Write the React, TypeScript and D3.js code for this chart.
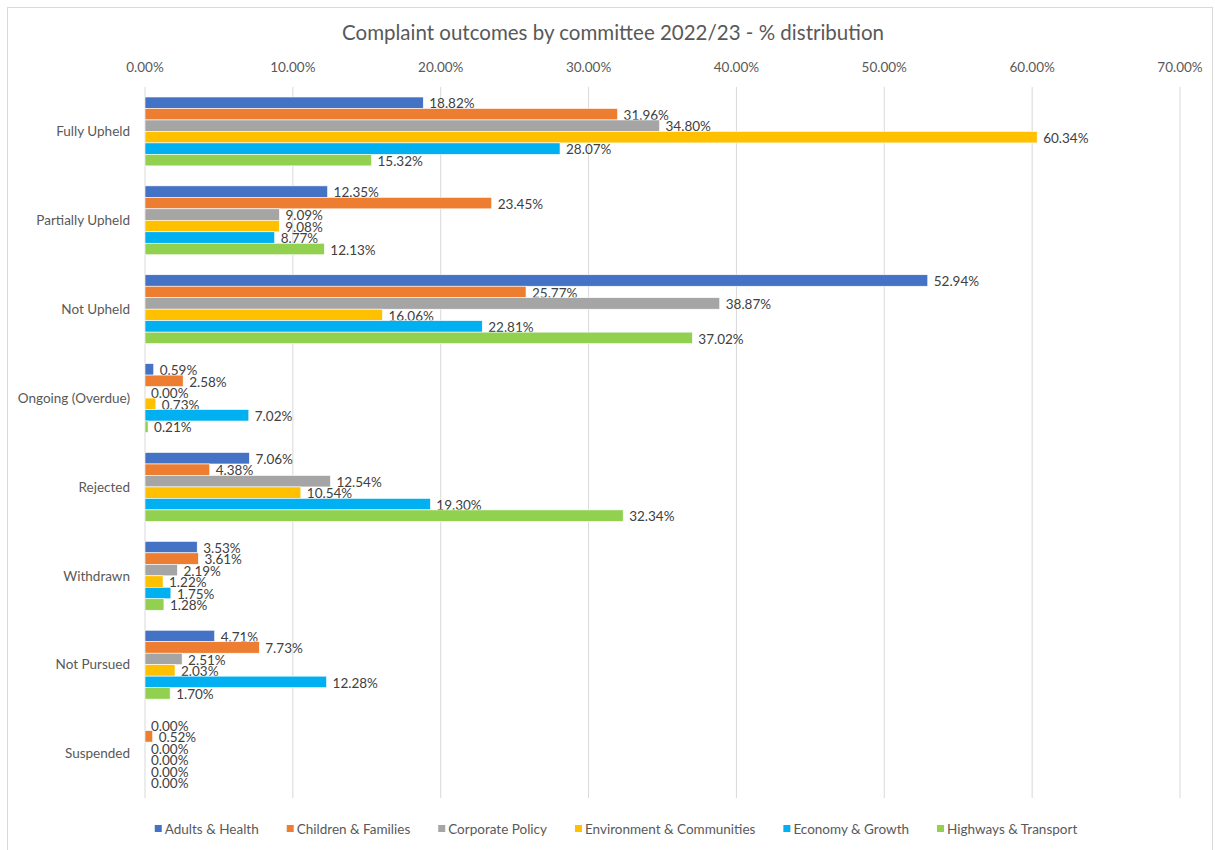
import { useEffect, useRef } from "react";
import * as d3 from "d3";

const CATEGORIES = [
  "Fully Upheld",
  "Partially Upheld",
  "Not Upheld",
  "Ongoing (Overdue)",
  "Rejected",
  "Withdrawn",
  "Not Pursued",
  "Suspended",
];

const SERIES = [
  "Adults & Health",
  "Children & Families",
  "Corporate Policy",
  "Environment & Communities",
  "Economy & Growth",
  "Highways & Transport",
];

const ADULTS = [18.82, 12.35, 52.94, 0.59, 7.06, 3.53, 4.71, 0.0];
const CHILDREN = [31.96, 23.45, 25.77, 2.58, 4.38, 3.61, 7.73, 0.52];
const CORPORATE = [34.8, 9.09, 38.87, 0.0, 12.54, 2.19, 2.51, 0.0];
const ENVIRONMENT = [60.34, 9.08, 16.06, 0.73, 10.54, 1.22, 2.03, 0.0];
const ECONOMY = [28.07, 8.77, 22.81, 7.02, 19.3, 1.75, 12.28, 0.0];
const HIGHWAYS = [15.32, 12.13, 37.02, 0.21, 32.34, 1.28, 1.7, 0.0];

const X_TICKS = [0, 10, 20, 30, 40, 50, 60, 70];

const COLORS = ["#4472C4", "#ED7D31", "#A5A5A5", "#FFC000", "#00B0F0", "#92D050"];

const FONT = "Lato, 'Open Sans', sans-serif";
const FS = "13.5px";

export default function App() {
  const svgRef = useRef<SVGSVGElement>(null);

  useEffect(() => {
    if (!svgRef.current) return;
    const svg = d3.select(svgRef.current);
    svg.selectAll("*").remove();

    const W = 1215;
    const H = 850;
    const margin = { top: 87, right: 35, bottom: 52, left: 145 };
    const width = W - margin.left - margin.right;
    const height = H - margin.top - margin.bottom;

    const values = [ADULTS, CHILDREN, CORPORATE, ENVIRONMENT, ECONOMY, HIGHWAYS];

    // chart frame
    svg.append("rect")
      .attr("x", 7.5).attr("y", 7.5)
      .attr("width", W - 10).attr("height", H - 5)
      .attr("fill", "#fff").attr("stroke", "#D9D9D9");

    svg.append("text")
      .attr("x", 613).attr("y", 40)
      .attr("text-anchor", "middle")
      .attr("font-family", FONT).attr("font-size", "20.5px")
      .attr("fill", "#595959")
      .text("Complaint outcomes by committee 2022/23 - % distribution");

    const g = svg.append("g").attr("transform", `translate(${margin.left},${margin.top})`);

    const x = d3.scaleLinear().domain([0, 70]).range([0, width]);
    const y0 = d3.scaleBand().domain(CATEGORIES).range([0, height]).paddingInner(0.225).paddingOuter(0.1125);
    const y1 = d3.scaleBand().domain(SERIES).range([0, y0.bandwidth()]);

    g.selectAll(".grid")
      .data(X_TICKS)
      .enter()
      .append("line")
      .attr("x1", (d) => x(d)).attr("x2", (d) => x(d))
      .attr("y1", 0).attr("y2", height)
      .attr("stroke", "#D9D9D9").attr("stroke-width", 1);

    g.selectAll(".tick-label")
      .data(X_TICKS)
      .enter()
      .append("text")
      .attr("x", (d) => x(d)).attr("y", -15)
      .attr("text-anchor", "middle")
      .attr("font-family", FONT).attr("font-size", FS)
      .attr("fill", "#595959")
      .text((d) => d.toFixed(2) + "%");

    g.selectAll(".cat-label")
      .data(CATEGORIES)
      .enter()
      .append("text")
      .attr("x", -15)
      .attr("y", (d) => (y0(d) ?? 0) + y0.bandwidth() / 2)
      .attr("dy", "0.35em")
      .attr("text-anchor", "end")
      .attr("font-family", FONT).attr("font-size", FS)
      .attr("fill", "#595959")
      .text((d) => d);

    SERIES.forEach((s, si) => {
      const rows = CATEGORIES.map((c, ci) => ({ c, v: values[si][ci] }));
      g.selectAll(`.bar-${si}`)
        .data(rows)
        .enter()
        .append("rect")
        .attr("x", x(0))
        .attr("y", (d) => (y0(d.c) ?? 0) + (y1(s) ?? 0))
        .attr("width", (d) => x(d.v) - x(0))
        .attr("height", y1.bandwidth())
        .attr("fill", COLORS[si])
        .attr("stroke", "#fff").attr("stroke-width", 0.6);

      g.selectAll(`.lab-${si}`)
        .data(rows)
        .enter()
        .append("text")
        .attr("x", (d) => x(d.v) + 6)
        .attr("y", (d) => (y0(d.c) ?? 0) + (y1(s) ?? 0) + y1.bandwidth() / 2 + 1)
        .attr("dy", "0.35em")
        .attr("font-family", FONT).attr("font-size", FS)
        .attr("fill", "#404040")
        .text((d) => d.v.toFixed(2) + "%");
    });

    // legend
    const legend = svg.append("g");
    const items: { node: d3.Selection<SVGGElement, unknown, null, undefined>; w: number }[] = [];
    SERIES.forEach((s, i) => {
      const item = legend.append("g");
      item.append("rect")
        .attr("x", 0).attr("y", -4)
        .attr("width", 7).attr("height", 7)
        .attr("fill", COLORS[i]);
      const t = item.append("text")
        .attr("x", 10).attr("y", 0)
        .attr("dy", "0.35em")
        .attr("font-family", FONT).attr("font-size", FS)
        .attr("fill", "#595959")
        .text(s);
      const tw = (t.node() as SVGTextElement).getComputedTextLength();
      items.push({ node: item, w: 10 + tw });
    });
    const gap = 28;
    const total = d3.sum(items, (d) => d.w) + gap * (items.length - 1);
    let lx = 616 - total / 2;
    items.forEach((it) => {
      it.node.attr("transform", `translate(${lx},829)`);
      lx += it.w + gap;
    });
  }, []);

  return (
    <svg
      ref={svgRef}
      width={1215}
      height={850}
      style={{ position: "absolute", left: 0, top: 0 }}
    />
  );
}
